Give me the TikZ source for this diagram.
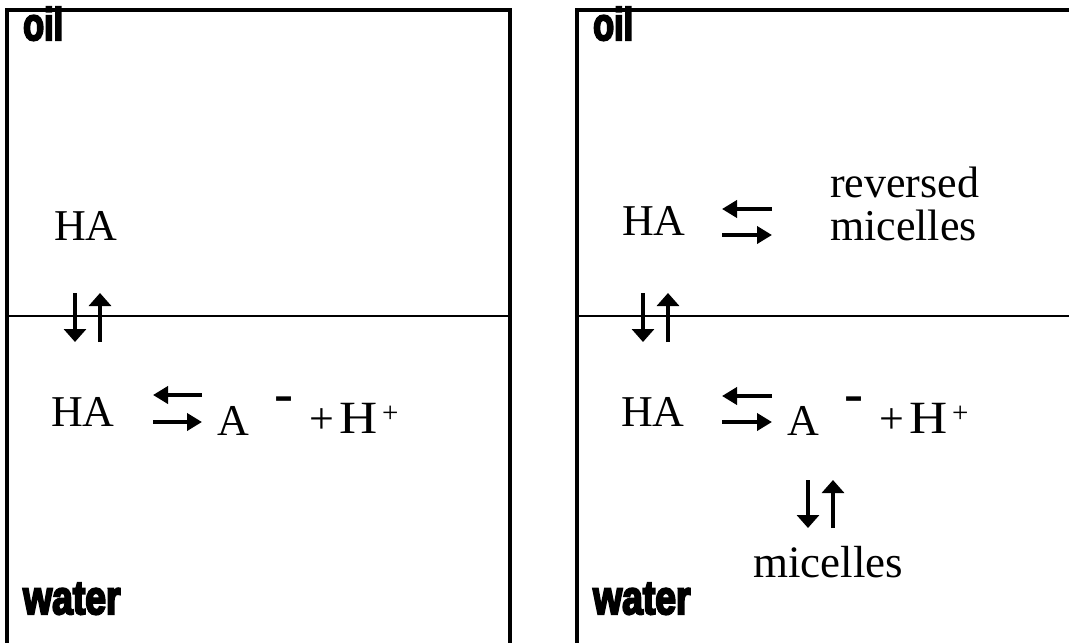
\documentclass[tikz,border=0pt]{standalone}
\usepackage{fontspec}
\setmainfont{Liberation Serif}
\newfontfamily\labfont[FakeBold=5]{Liberation Sans Bold}
\usetikzlibrary{arrows.meta}
\tikzset{
  boxline/.style={line width=4pt, line cap=butt, line join=miter},
  iface/.style={line width=1.5pt},
  txt/.style={inner sep=0pt, anchor=base west, font=\fontsize{44}{50}\selectfont},
  sup/.style={inner sep=0pt, anchor=base west, font=\fontsize{29}{34}\selectfont},
  phase/.style={inner sep=0pt, anchor=base west, font=\labfont\fontsize{38}{44}\selectfont},
  harr/.style={line width=4.5pt, -{Triangle[length=15pt,width=17pt]}},
  varr/.style={line width=4.5pt, -{Triangle[length=13pt,width=22pt]}}
}
\begin{document}
\begin{tikzpicture}[x=1pt,y=-1pt]
\useasboundingbox (0,0) rectangle (1069,643);
% boxes
\draw[boxline] (7,650) -- (7,9.5) -- (509.5,9.5) -- (509.5,650);
\draw[boxline] (577,650) -- (577,9.5) -- (1075,9.5);
\draw[iface] (7,316) -- (509.5,316);
\draw[iface] (577,316) -- (1069,316);
% phase labels
\node[phase] (oilL) at (23,40) {\scalebox{0.9}[1.2]{oil}};
\node[phase] (waterL) at (23,614) {\scalebox{0.98}[1.25]{water}};
\node[phase] (oilR) at (593,40) {\scalebox{0.9}[1.2]{oil}};
\node[phase] (waterR) at (593,614) {\scalebox{0.98}[1.25]{water}};
% left box texts
\node[txt] (haUL) at (54,240) {HA};
\node[txt] (haLL) at (51,426) {HA};
\node[txt] (aL) at (217,435) {A};
\node[txt] (mL) at (274,411) {\scalebox{1.3}[1.2]{\textbf{-}}};
\node[txt] (pL) at (309,433) {+};
\node[txt] (hL) at (339,433) {\scalebox{1.2}[1.05]{H}};
\node[sup] (hsL) at (382,422) {+};
% right box texts
\node[txt] (haUR) at (622,235) {HA};
\node[txt] (revR) at (830,197) {reversed};
\node[txt] (micR) at (830,240) {micelles};
\node[txt] (haLR) at (621,426) {HA};
\node[txt] (aR) at (787,435) {A};
\node[txt] (mR) at (844,411) {\scalebox{1.3}[1.2]{\textbf{-}}};
\node[txt] (pR) at (879,433) {+};
\node[txt] (hR) at (909,433) {\scalebox{1.2}[1.05]{H}};
\node[sup] (hsR) at (952,422) {+};
\node[txt, font=\fontsize{45}{50}\selectfont] (micW) at (753,577) {micelles};
% arrow coordinates
\coordinate (l1a) at (202,395); \coordinate (l1b) at (153,395);
\coordinate (l2a) at (153,422); \coordinate (l2b) at (202,422);
\coordinate (v1a) at (75,293); \coordinate (v1b) at (75,342);
\coordinate (v2a) at (100,342); \coordinate (v2b) at (100,293);
\coordinate (r1a) at (772,209); \coordinate (r1b) at (722,209);
\coordinate (r2a) at (722,235); \coordinate (r2b) at (772,235);
\coordinate (r3a) at (772,396); \coordinate (r3b) at (722,396);
\coordinate (r4a) at (722,422); \coordinate (r4b) at (772,422);
\coordinate (w1a) at (643,293); \coordinate (w1b) at (643,342);
\coordinate (w2a) at (668,342); \coordinate (w2b) at (668,293);
\coordinate (m1a) at (808,480); \coordinate (m1b) at (808,528);
\coordinate (m2a) at (833,528); \coordinate (m2b) at (833,480);
% arrows
\draw[harr] (l1a) -- (l1b);
\draw[harr] (l2a) -- (l2b);
\draw[varr] (v1a) -- (v1b);
\draw[varr] (v2a) -- (v2b);
\draw[harr] (r1a) -- (r1b);
\draw[harr] (r2a) -- (r2b);
\draw[harr] (r3a) -- (r3b);
\draw[harr] (r4a) -- (r4b);
\draw[varr] (w1a) -- (w1b);
\draw[varr] (w2a) -- (w2b);
\draw[varr] (m1a) -- (m1b);
\draw[varr] (m2a) -- (m2b);
\end{tikzpicture}
\end{document}
